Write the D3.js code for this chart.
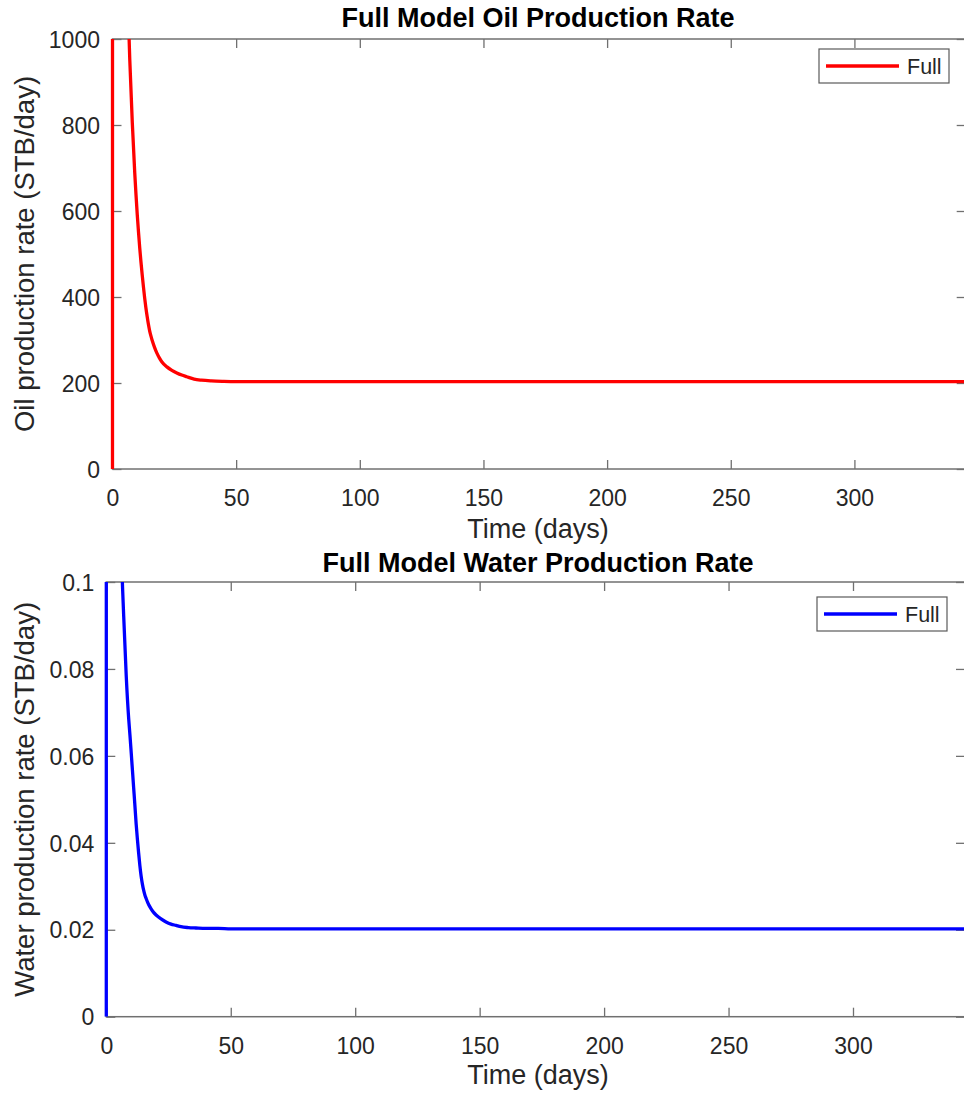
<!DOCTYPE html>
<html>
<head>
<meta charset="utf-8">
<script src="https://cdn.jsdelivr.net/npm/d3@7"></script>
<style>
  html, body { margin: 0; padding: 0; background: #fff; }
  svg { display: block; }
</style>
</head>
<body>
<svg id="fig" width="964" height="1097"></svg>
<script>
// Simulation output: time (days) and rates (STB/day)
const days = [0, 0.02, 1, 2, 3, 4, 5, 6, 7, 8, 9, 9.5, 10, 10.5, 11, 11.5, 12, 12.5, 13, 13.5,
  14, 14.5, 15, 15.5, 16, 17, 18, 19, 20, 22, 24, 26, 28, 30, 33, 36, 40, 45, 50, 100, 150,
  200, 250, 300, 345];
const oilRate = [0, 5000, 3800, 2900, 2200, 1700, 1380, 1129, 950, 806, 688, 638, 592, 552, 515,
  482, 452, 424, 398, 375, 355, 337, 322, 310, 300, 283, 269, 258, 249, 237.5, 229.5, 223.5,
  218.5, 214.5, 209, 206.5, 204.8, 203.8, 203.3, 203, 203, 203, 203, 203, 203];
const waterRate = [0, 0.5, 0.38, 0.29, 0.22, 0.17, 0.135, 0.108, 0.092, 0.0785, 0.0685, 0.0648,
  0.0608, 0.0567, 0.0526, 0.0485, 0.0443, 0.0408, 0.0376, 0.0347, 0.0323, 0.0305, 0.0291,
  0.028, 0.0272, 0.0258, 0.0248, 0.024, 0.0234, 0.0225, 0.0218, 0.0213, 0.021, 0.0207,
  0.0205, 0.0204, 0.0203, 0.0203, 0.0202, 0.0202, 0.0202, 0.0202, 0.0202, 0.0202, 0.0202];

const xTicks = [0, 50, 100, 150, 200, 250, 300];
const oilTicks = [0, 200, 400, 600, 800, 1000];
const waterTicks = [0, 0.02, 0.04, 0.06, 0.08, 0.1];
const seriesName = "Full";

const FONT = "'Liberation Sans', Arial, Helvetica, sans-serif";
const AXIS_COLOR = "#707070";
const TEXT_COLOR = "#262626";

const svg = d3.select("#fig");
svg.append("rect").attr("width", 964).attr("height", 1097).attr("fill", "#fff");

function drawPanel(cfg) {
  const x = d3.scaleLinear().domain([0, 345]).range([cfg.left, cfg.right]);
  const y = d3.scaleLinear().domain(cfg.yDomain).range([cfg.bottom, cfg.top]);
  const g = svg.append("g");
  const tickLen = 9;
  const fmt = d3.format("~g");

  const clipId = "clip-" + cfg.id;
  svg.append("clipPath").attr("id", clipId)
    .append("rect")
    .attr("x", cfg.left - 3).attr("y", cfg.top)
    .attr("width", cfg.right - cfg.left + 6).attr("height", cfg.bottom - cfg.top);

  // bottom axis with inward ticks and labels
  const xAxis = d3.axisBottom(x).tickValues(xTicks).tickSize(-tickLen).tickPadding(0).tickFormat(fmt);
  const gx = g.append("g").attr("transform", `translate(0,${cfg.bottom})`).call(xAxis);
  gx.select(".domain").remove();
  gx.selectAll(".tick line").attr("stroke", AXIS_COLOR).attr("stroke-width", 1.3);
  gx.selectAll(".tick text")
    .attr("y", 37).attr("dy", null)
    .attr("fill", TEXT_COLOR).style("font-family", FONT).style("font-size", "23px");

  // top axis ticks (box)
  const xTop = d3.axisTop(x).tickValues(xTicks).tickSize(-tickLen).tickFormat("");
  const gxt = g.append("g").attr("transform", `translate(0,${cfg.top})`).call(xTop);
  gxt.select(".domain").remove();
  gxt.selectAll(".tick line").attr("stroke", AXIS_COLOR).attr("stroke-width", 1.3);

  // left axis with inward ticks and labels
  const yAxis = d3.axisLeft(y).tickValues(cfg.yTicks).tickSize(-tickLen).tickPadding(0).tickFormat(fmt);
  const gy = g.append("g").attr("transform", `translate(${cfg.left},0)`).call(yAxis);
  gy.select(".domain").remove();
  gy.selectAll(".tick line").attr("stroke", AXIS_COLOR).attr("stroke-width", 1.3);
  gy.selectAll(".tick text")
    .attr("x", -cfg.labelGap).attr("dy", null).attr("y", 8.2)
    .attr("fill", TEXT_COLOR).style("font-family", FONT).style("font-size", "23px");

  // right axis ticks (box)
  const yRight = d3.axisRight(y).tickValues(cfg.yTicks).tickSize(-tickLen).tickFormat("");
  const gyr = g.append("g").attr("transform", `translate(${cfg.right},0)`).call(yRight);
  gyr.select(".domain").remove();
  gyr.selectAll(".tick line").attr("stroke", AXIS_COLOR).attr("stroke-width", 1.3);

  // axes box
  g.append("rect")
    .attr("x", cfg.left).attr("y", cfg.top)
    .attr("width", cfg.right - cfg.left).attr("height", cfg.bottom - cfg.top)
    .attr("fill", "none").attr("stroke", AXIS_COLOR).attr("stroke-width", 1.5);

  // data line
  const line = d3.line()
    .x((d, i) => x(days[i]))
    .y(d => y(d))
    .curve(d3.curveMonotoneX);
  g.append("path")
    .datum(cfg.values)
    .attr("clip-path", `url(#${clipId})`)
    .attr("d", line)
    .attr("fill", "none")
    .attr("stroke", cfg.color)
    .attr("stroke-width", 3.3)
    .attr("stroke-linejoin", "round");

  // title
  g.append("text")
    .attr("x", 538).attr("y", cfg.titleY)
    .attr("text-anchor", "middle")
    .attr("fill", "#000").style("font-family", FONT).style("font-size", "27px").style("font-weight", "bold")
    .text(cfg.title);

  // x label
  g.append("text")
    .attr("x", 538).attr("y", cfg.xLabelY)
    .attr("text-anchor", "middle")
    .attr("fill", TEXT_COLOR).style("font-family", FONT).style("font-size", "27px")
    .text("Time (days)");

  // y label
  const yc = (cfg.top + cfg.bottom) / 2;
  g.append("text")
    .attr("transform", `translate(${cfg.yLabelX},${yc}) rotate(-90)`)
    .attr("text-anchor", "middle")
    .attr("fill", TEXT_COLOR).style("font-family", FONT).style("font-size", "27.5px")
    .text(cfg.yLabel);

  // legend
  const lg = g.append("g").attr("transform", `translate(${cfg.legendX},${cfg.legendY})`);
  lg.append("rect").attr("x", 0).attr("y", 0).attr("width", 130).attr("height", 34)
    .attr("fill", "#fff").attr("stroke", "#5a5a5a").attr("stroke-width", 1.2);
  lg.append("line").attr("x1", 7).attr("x2", 80).attr("y1", 17).attr("y2", 17)
    .attr("stroke", cfg.color).attr("stroke-width", 3.3);
  lg.append("text").attr("x", 88).attr("y", 25)
    .attr("fill", TEXT_COLOR).style("font-family", FONT).style("font-size", "21.5px")
    .text(seriesName);
}

drawPanel({
  id: "oil", left: 112.5, right: 965.7, top: 39, bottom: 469,
  yDomain: [0, 1000], yTicks: oilTicks, values: oilRate, color: "#ff0000",
  labelGap: 12.5, title: "Full Model Oil Production Rate", titleY: 27,
  xLabelY: 538, yLabelX: 34, yLabel: "Oil production rate (STB/day)",
  legendX: 819, legendY: 49
});

drawPanel({
  id: "water", left: 106.3, right: 965, top: 582, bottom: 1016.7,
  yDomain: [0, 0.1], yTicks: waterTicks, values: waterRate, color: "#0000ff",
  labelGap: 12, title: "Full Model Water Production Rate", titleY: 572,
  xLabelY: 1084, yLabelX: 34, yLabel: "Water production rate (STB/day)",
  legendX: 817, legendY: 597
});
</script>
</body>
</html>
